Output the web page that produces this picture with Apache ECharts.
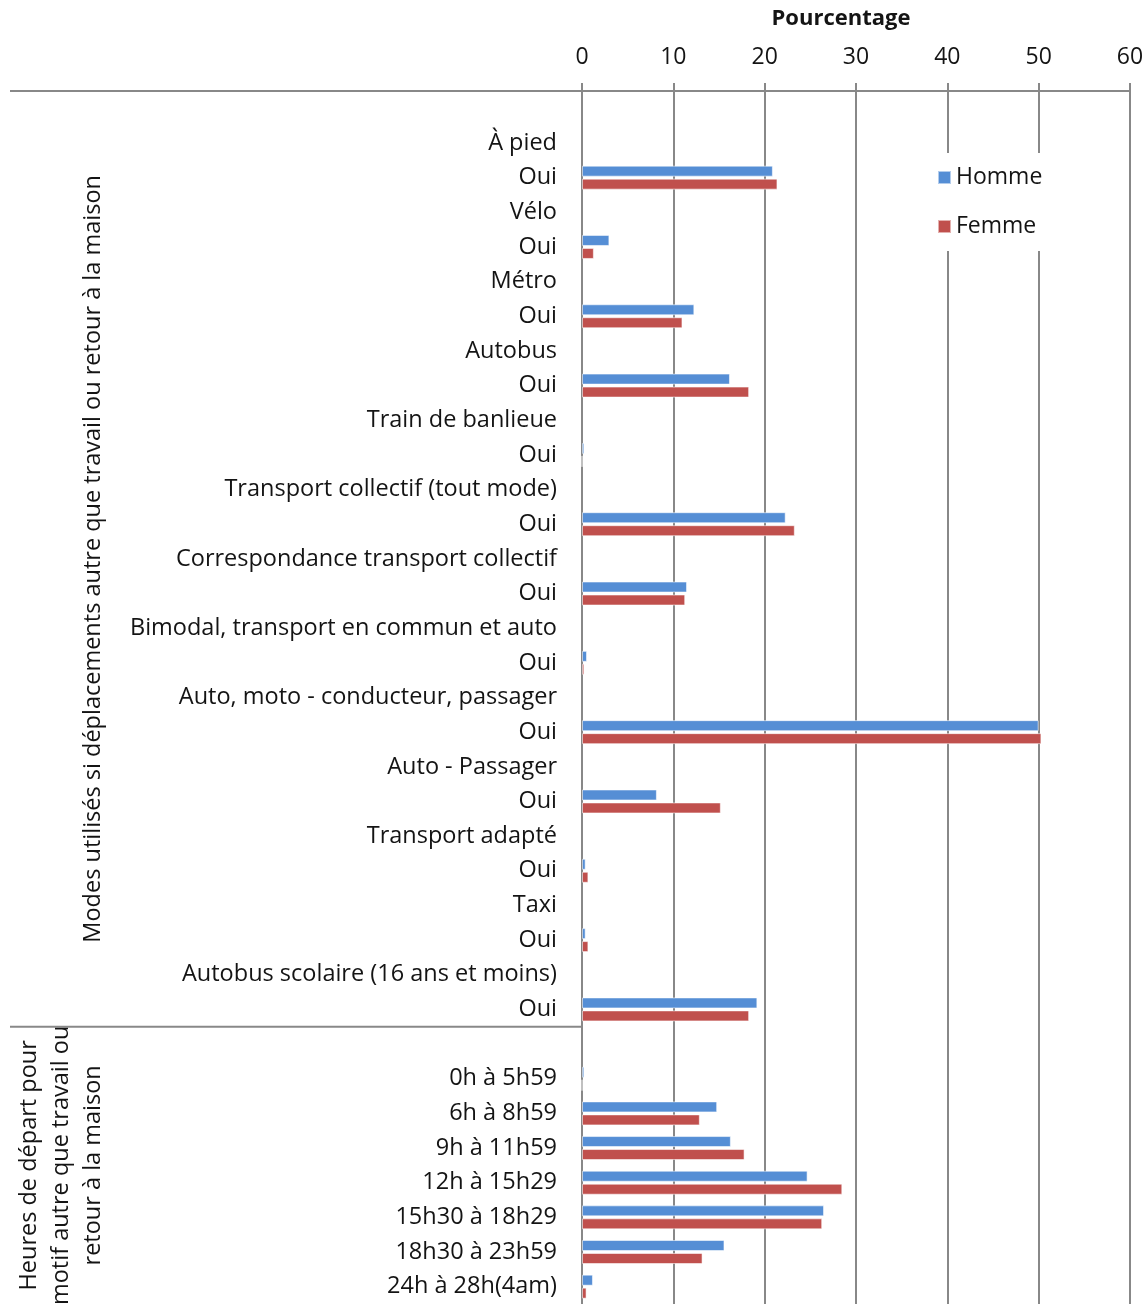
<!DOCTYPE html>
<html><head><meta charset="utf-8">
<script src="https://cdn.jsdelivr.net/npm/echarts@6/dist/echarts.min.js"></script>
<style>html,body{margin:0;padding:0;background:#fff}#c{width:1148px;height:1304px}</style>
</head><body><div id="c"></div>
<script>
// ---- data ----
const modes = ['À pied','Vélo','Métro','Autobus','Train de banlieue','Transport collectif (tout mode)','Correspondance transport collectif','Bimodal, transport en commun et auto','Auto, moto - conducteur, passager','Auto - Passager','Transport adapté','Taxi','Autobus scolaire (16 ans et moins)'];
const modeHomme = [20.9, 3.0, 12.3, 16.2, 0.25, 22.3, 11.5, 0.55, 50.0, 8.2, 0.4, 0.4, 19.2];
const modeFemme = [21.4, 1.3, 11.0, 18.3, 0, 23.3, 11.3, 0.25, 50.3, 15.2, 0.7, 0.7, 18.3];
const hours = ['0h à 5h59','6h à 8h59','9h à 11h59','12h à 15h29','15h30 à 18h29','18h30 à 23h59','24h à 28h(4am)'];
const hourHomme = [0.25, 14.8, 16.3, 24.7, 26.5, 15.6, 1.2];
const hourFemme = [0, 12.9, 17.8, 28.5, 26.3, 13.2, 0.5];
const xTicks = [0, 10, 20, 30, 40, 50, 60];
const seriesNames = ['Homme', 'Femme'];
const yesLabel = 'Oui';
const axisTitle = 'Pourcentage';
const groupTitles = ['Modes utilisés si déplacements autre que travail ou retour à la maison',
  'Heures de départ pour\nmotif autre que travail ou\nretour à la maison'];

// ---- build category rows ----
const cats = [''];
const hData = ['-'];
const fData = ['-'];
modes.forEach((m, i) => {
  cats.push(m); hData.push('-'); fData.push('-');
  cats.push(yesLabel); hData.push(modeHomme[i]); fData.push(modeFemme[i]);
});
const firstGroupRows = cats.length;
cats.push(''); hData.push('-'); fData.push('-');
hours.forEach((h, i) => { cats.push(h); hData.push(hourHomme[i]); fData.push(hourFemme[i]); });

const FONT = '"Open Sans", "Noto Sans", sans-serif';
const FS = 23.5;
const GRAY = '#888888';
const TXT = '#141414';
const chart = echarts.init(document.getElementById('c'), null, {renderer: 'canvas'});
chart.setOption({
  animation: false,
  backgroundColor: '#fff',
  textStyle: {fontFamily: FONT},
  grid: {left: 582, right: 18, top: 91, height: 1214.5, containLabel: false},
  legend: {
    data: seriesNames, orient: 'vertical', left: 928, top: 153,
    icon: 'rect', itemWidth: 13, itemHeight: 13, itemGap: 26,
    backgroundColor: '#fff', padding: [13, 14, 13, 9],
    textStyle: {fontSize: 23, color: TXT, fontFamily: FONT}
  },
  xAxis: {
    type: 'value', position: 'top', min: xTicks[0], max: xTicks[xTicks.length - 1],
    interval: xTicks[1] - xTicks[0],
    axisLine: {show: true, lineStyle: {color: GRAY, width: 2}},
    axisTick: {show: true, length: 8, lineStyle: {color: GRAY, width: 2}},
    axisLabel: {fontSize: 23, color: TXT, margin: 22, fontFamily: FONT},
    splitLine: {show: true, lineStyle: {color: GRAY, width: 2}}
  },
  yAxis: {
    type: 'category', data: cats, inverse: true,
    axisLine: {show: true, lineStyle: {color: GRAY, width: 2}},
    axisTick: {show: false},
    axisLabel: {interval: 0, fontSize: FS, color: TXT, margin: 25, fontFamily: FONT, padding: [6, 0, 0, 0]},
    splitLine: {show: false}
  },
  series: [
    {name: seriesNames[0], type: 'bar', data: hData, barWidth: 11, barGap: '18%',
     itemStyle: {color: '#558ED5', borderColor: 'rgba(255,255,255,0.55)', borderWidth: 1}},
    {name: seriesNames[1], type: 'bar', data: fData, barWidth: 11, barGap: '18%',
     itemStyle: {color: '#C0504D', borderColor: 'rgba(255,255,255,0.55)', borderWidth: 1}}
  ]
});

// ---- decorations computed from the axes ----
const c0 = chart.convertToPixel({yAxisIndex: 0}, 0);
const c1 = chart.convertToPixel({yAxisIndex: 0}, 1);
const rh = c1 - c0;
const topY = c0 - rh / 2;
const sepY = c0 + rh * (firstGroupRows - 0.5);
const botY = c0 + rh * (cats.length - 0.5);
const x0 = chart.convertToPixel({xAxisIndex: 0}, 0);
const leftX = 10;
chart.setOption({
  graphic: [
    {type: 'line', shape: {x1: leftX, y1: topY, x2: x0, y2: topY}, style: {stroke: GRAY, lineWidth: 2}, z: 10},
    {type: 'line', shape: {x1: leftX, y1: sepY, x2: x0, y2: sepY}, style: {stroke: GRAY, lineWidth: 2}, z: 10},
    {type: 'text', x: 841, y: 19, style: {text: axisTitle, font: 'bold 22px ' + FONT, fill: TXT, align: 'center', verticalAlign: 'middle'}},
    {type: 'text', x: 93, y: (topY + sepY) / 2, rotation: Math.PI / 2,
     style: {text: groupTitles[0], font: FS + 'px ' + FONT, fill: TXT, align: 'center', verticalAlign: 'middle'}},
    {type: 'text', x: 61, y: (sepY + botY) / 2, rotation: Math.PI / 2,
     style: {text: groupTitles[1], font: FS + 'px ' + FONT, fill: TXT, align: 'center', verticalAlign: 'middle', lineHeight: 32}}
  ]
});
</script></body></html>
